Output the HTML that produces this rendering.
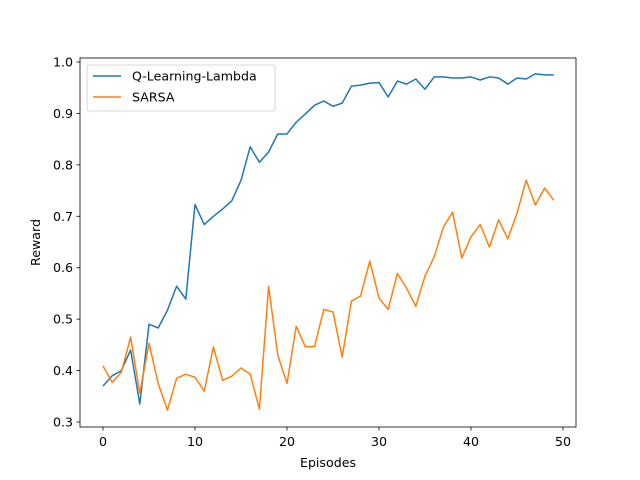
<!DOCTYPE html>
<html><head><meta charset="utf-8"><style>
body{margin:0;background:#fff}
svg{display:block;font-family:"DejaVu Sans","Liberation Sans",sans-serif}
</style></head><body>
<svg id="chart" width="640" height="480" viewBox="0 0 640 480">
<rect width="640" height="480" fill="#fff"/>
<g id="plot"></g>
</svg>
<script>
const episodes = Array.from({length:50},(_,i)=>i);
const qValues = [0.37,0.39,0.40,0.44,0.335,0.49,0.483,0.517,0.564,0.539,0.723,0.684,0.70,0.714,0.73,0.77,0.835,0.805,0.825,0.86,0.86,0.883,0.899,0.916,0.924,0.914,0.92,0.953,0.955,0.959,0.96,0.932,0.963,0.957,0.967,0.947,0.971,0.971,0.969,0.969,0.971,0.965,0.971,0.969,0.957,0.969,0.967,0.977,0.975,0.975];
const sarsaValues = [0.409,0.377,0.397,0.465,0.356,0.453,0.375,0.323,0.385,0.393,0.387,0.36,0.446,0.381,0.389,0.405,0.393,0.325,0.564,0.43,0.375,0.486,0.446,0.447,0.519,0.514,0.426,0.535,0.545,0.613,0.541,0.519,0.589,0.56,0.525,0.584,0.621,0.679,0.708,0.619,0.66,0.684,0.64,0.693,0.656,0.706,0.77,0.722,0.755,0.731];
const xTicks = [0,10,20,30,40,50];
const yTicks = [0.3,0.4,0.5,0.6,0.7,0.8,0.9,1.0];
const NS='http://www.w3.org/2000/svg';
const L=80,R=576,T=58,B=427,FS=12.6;
const xS=v=>103+(v)*(563-103)/50;
const yS=v=>62+(1.0-v)*(422-62)/0.7;
const g=document.getElementById('plot');
function mk(t,a,txt){const e=document.createElementNS(NS,t);for(const k in a)e.setAttribute(k,a[k]);if(txt!==undefined)e.textContent=txt;g.appendChild(e);return e;}
xTicks.forEach(t=>{
 const l=mk('line',{x1:xS(t),x2:xS(t),y1:B,y2:B+3.5,stroke:'#000','stroke-width':0.8});
 
 
 const tx=mk('text',{x:xS(t),y:B+19,'font-size':FS,'text-anchor':'middle'},String(t));
 
 
});
yTicks.forEach(t=>{
 const l=mk('line',{x1:L-3.5,x2:L,y1:yS(t),y2:yS(t),stroke:'#000','stroke-width':0.8});
 
 
 const tx=mk('text',{x:L-7,y:yS(t)+4.5,'font-size':FS,'text-anchor':'end'},t.toFixed(1));
 
 
});
function series(vals,color,name){
 const p=mk('polyline',{points:vals.map((v,i)=>xS(episodes[i])+','+yS(v)).join(' '),fill:'none',stroke:color,'stroke-width':1.5,'stroke-linejoin':'round'});
 
 
}
series(qValues,'#1f77b4','q-learning-lambda-line');
series(sarsaValues,'#ff7f0e','sarsa-line');
const fr=mk('rect',{x:L,y:T,width:R-L,height:B-T,fill:'none',stroke:'#000','stroke-width':0.8});


const xl=mk('text',{x:(L+R)/2,y:467,'font-size':FS,'text-anchor':'middle'},'Episodes');


const yl=mk('text',{x:0,y:0,'font-size':FS,'text-anchor':'middle',transform:'translate(40,'+((T+B)/2)+') rotate(-90)'},'Reward');


const lg=mk('rect',{x:87,y:65,width:188,height:46,rx:2,fill:'#fff','fill-opacity':0.8,stroke:'#ccc','stroke-width':0.8});


[['Q-Learning-Lambda','#1f77b4',76],['SARSA','#ff7f0e',97]].forEach(([n,c,y])=>{
 const l=mk('line',{x1:93,x2:121,y1:y,y2:y,stroke:c,'stroke-width':1.5});
 
 
 const t=mk('text',{x:132,y:y+4.5,'font-size':FS},n);
 
 
});
</script>
</body></html>
